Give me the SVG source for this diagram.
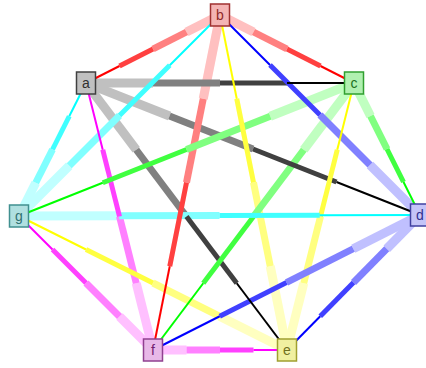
<svg xmlns="http://www.w3.org/2000/svg" width="426" height="368" viewBox="0 0 426 368">
<style>
line{stroke-linecap:butt}
.l1{stroke-width:9}.l2{stroke-width:7}.l3{stroke-width:5}.l4{stroke-width:2}
.K.l1{stroke:#c0c0c0}.K.l2{stroke:#808080}.K.l3{stroke:#404040}.K.l4{stroke:#000}
.R.l1{stroke:#ffc0c0}.R.l2{stroke:#ff8080}.R.l3{stroke:#ff4040}.R.l4{stroke:#f00}
.G.l1{stroke:#c0ffc0}.G.l2{stroke:#80ff80}.G.l3{stroke:#40ff40}.G.l4{stroke:#0f0}
.B.l1{stroke:#c0c0ff}.B.l2{stroke:#8080ff}.B.l3{stroke:#4040ff}.B.l4{stroke:#00f}
.Y.l1{stroke:#ffffc0}.Y.l2{stroke:#ffff80}.Y.l3{stroke:#ffff40}.Y.l4{stroke:#ff0}
.M.l1{stroke:#ffc0ff}.M.l2{stroke:#ff80ff}.M.l3{stroke:#ff40ff}.M.l4{stroke:#f0f}
.C.l1{stroke:#c0ffff}.C.l2{stroke:#80ffff}.C.l3{stroke:#40ffff}.C.l4{stroke:#0ff}
.node rect{stroke-width:1.5}
.node text{font-family:"Liberation Sans","DejaVu Sans",sans-serif;font-size:14px;text-anchor:middle}
</style>
<g id="edges">
<g id="level1">
<line class="R l1" x1="220" y1="15" x2="186.5" y2="32"/>
<line class="K l1" x1="86" y1="83" x2="153" y2="83"/>
<line class="K l1" x1="86" y1="83" x2="169.5" y2="116"/>
<line class="K l1" x1="86" y1="83" x2="136.25" y2="149.75"/>
<line class="M l1" x1="153" y1="350" x2="136.25" y2="283.25"/>
<line class="C l1" x1="19" y1="216" x2="35.75" y2="182.75"/>
<line class="R l1" x1="220" y1="15" x2="253.5" y2="32"/>
<line class="B l1" x1="420" y1="215" x2="370" y2="165"/>
<line class="Y l1" x1="287" y1="350" x2="270.25" y2="266.25"/>
<line class="R l1" x1="220" y1="15" x2="203.25" y2="98.75"/>
<line class="C l1" x1="19" y1="216" x2="69.25" y2="165.75"/>
<line class="G l1" x1="354" y1="83" x2="370.5" y2="116"/>
<line class="Y l1" x1="287" y1="350" x2="303.75" y2="283.25"/>
<line class="G l1" x1="354" y1="83" x2="303.75" y2="149.75"/>
<line class="G l1" x1="354" y1="83" x2="270.25" y2="116.25"/>
<line class="B l1" x1="420" y1="215" x2="386.75" y2="248.75"/>
<line class="B l1" x1="420" y1="215" x2="353.25" y2="248.75"/>
<line class="C l1" x1="19" y1="216" x2="119.25" y2="215.75"/>
<line class="M l1" x1="153" y1="350" x2="186.5" y2="350"/>
<line class="Y l1" x1="287" y1="350" x2="220" y2="316.5"/>
<line class="M l1" x1="153" y1="350" x2="119.5" y2="316.5"/>
</g>
<g id="level2">
<line class="R l2" x1="186.5" y1="32" x2="153" y2="49"/>
<line class="K l2" x1="153" y1="83" x2="220" y2="83"/>
<line class="K l2" x1="169.5" y1="116" x2="253" y2="149"/>
<line class="K l2" x1="136.25" y1="149.75" x2="186.5" y2="216.5"/>
<line class="M l2" x1="136.25" y1="283.25" x2="119.5" y2="216.5"/>
<line class="C l2" x1="35.75" y1="182.75" x2="52.5" y2="149.5"/>
<line class="R l2" x1="253.5" y1="32" x2="287" y2="49"/>
<line class="B l2" x1="370" y1="165" x2="320" y2="115"/>
<line class="Y l2" x1="270.25" y1="266.25" x2="253.5" y2="182.5"/>
<line class="R l2" x1="203.25" y1="98.75" x2="186.5" y2="182.5"/>
<line class="C l2" x1="69.25" y1="165.75" x2="119.5" y2="115.5"/>
<line class="G l2" x1="370.5" y1="116" x2="387" y2="149"/>
<line class="Y l2" x1="303.75" y1="283.25" x2="320.5" y2="216.5"/>
<line class="G l2" x1="303.75" y1="149.75" x2="253.5" y2="216.5"/>
<line class="G l2" x1="270.25" y1="116.25" x2="186.5" y2="149.5"/>
<line class="B l2" x1="386.75" y1="248.75" x2="353.5" y2="282.5"/>
<line class="B l2" x1="353.25" y1="248.75" x2="286.5" y2="282.5"/>
<line class="C l2" x1="119.25" y1="215.75" x2="219.5" y2="215.5"/>
<line class="M l2" x1="186.5" y1="350" x2="220" y2="350"/>
<line class="Y l2" x1="220" y1="316.5" x2="153" y2="283"/>
<line class="M l2" x1="119.5" y1="316.5" x2="86" y2="283"/>
</g>
<g id="level3">
<line class="R l3" x1="153" y1="49" x2="119.5" y2="66"/>
<line class="K l3" x1="220" y1="83" x2="287" y2="83"/>
<line class="K l3" x1="253" y1="149" x2="336.5" y2="182"/>
<line class="K l3" x1="186.5" y1="216.5" x2="236.75" y2="283.25"/>
<line class="M l3" x1="119.5" y1="216.5" x2="102.75" y2="149.75"/>
<line class="C l3" x1="52.5" y1="149.5" x2="69.25" y2="116.25"/>
<line class="R l3" x1="287" y1="49" x2="320.5" y2="66"/>
<line class="B l3" x1="320" y1="115" x2="270" y2="65"/>
<line class="Y l3" x1="253.5" y1="182.5" x2="236.75" y2="98.75"/>
<line class="R l3" x1="186.5" y1="182.5" x2="169.75" y2="266.25"/>
<line class="C l3" x1="119.5" y1="115.5" x2="169.75" y2="65.25"/>
<line class="G l3" x1="387" y1="149" x2="403.5" y2="182"/>
<line class="Y l3" x1="320.5" y1="216.5" x2="337.25" y2="149.75"/>
<line class="G l3" x1="253.5" y1="216.5" x2="203.25" y2="283.25"/>
<line class="G l3" x1="186.5" y1="149.5" x2="102.75" y2="182.75"/>
<line class="B l3" x1="353.5" y1="282.5" x2="320.25" y2="316.25"/>
<line class="B l3" x1="286.5" y1="282.5" x2="219.75" y2="316.25"/>
<line class="C l3" x1="219.5" y1="215.5" x2="319.75" y2="215.25"/>
<line class="M l3" x1="220" y1="350" x2="253.5" y2="350"/>
<line class="Y l3" x1="153" y1="283" x2="86" y2="249.5"/>
<line class="M l3" x1="86" y1="283" x2="52.5" y2="249.5"/>
</g>
<g id="level4">
<line class="R l4" x1="119.5" y1="66" x2="86" y2="83"/>
<line class="K l4" x1="287" y1="83" x2="354" y2="83"/>
<line class="K l4" x1="336.5" y1="182" x2="420" y2="215"/>
<line class="K l4" x1="236.75" y1="283.25" x2="287" y2="350"/>
<line class="M l4" x1="102.75" y1="149.75" x2="86" y2="83"/>
<line class="C l4" x1="69.25" y1="116.25" x2="86" y2="83"/>
<line class="R l4" x1="320.5" y1="66" x2="354" y2="83"/>
<line class="B l4" x1="270" y1="65" x2="220" y2="15"/>
<line class="Y l4" x1="236.75" y1="98.75" x2="220" y2="15"/>
<line class="R l4" x1="169.75" y1="266.25" x2="153" y2="350"/>
<line class="C l4" x1="169.75" y1="65.25" x2="220" y2="15"/>
<line class="G l4" x1="403.5" y1="182" x2="420" y2="215"/>
<line class="Y l4" x1="337.25" y1="149.75" x2="354" y2="83"/>
<line class="G l4" x1="203.25" y1="283.25" x2="153" y2="350"/>
<line class="G l4" x1="102.75" y1="182.75" x2="19" y2="216"/>
<line class="B l4" x1="320.25" y1="316.25" x2="287" y2="350"/>
<line class="B l4" x1="219.75" y1="316.25" x2="153" y2="350"/>
<line class="C l4" x1="319.75" y1="215.25" x2="420" y2="215"/>
<line class="M l4" x1="253.5" y1="350" x2="287" y2="350"/>
<line class="Y l4" x1="86" y1="249.5" x2="19" y2="216"/>
<line class="M l4" x1="52.5" y1="249.5" x2="19" y2="216"/>
</g>
</g>
<g id="node-a" class="node"><rect x="76.5" y="72" width="19" height="22" fill="#c0c0c0" stroke="#404040"/><text x="86" y="88" fill="#303030">a</text></g>
<g id="node-b" class="node"><rect x="210.5" y="4" width="19" height="22" fill="#f4b4b4" stroke="#a03030"/><text x="220" y="20" fill="#902828">b</text></g>
<g id="node-c" class="node"><rect x="344.5" y="72" width="19" height="22" fill="#b0f0b0" stroke="#30a030"/><text x="354" y="88" fill="#207020">c</text></g>
<g id="node-d" class="node"><rect x="410.5" y="204" width="19" height="22" fill="#c4c4f8" stroke="#4040a0"/><text x="420" y="220" fill="#303090">d</text></g>
<g id="node-e" class="node"><rect x="277.5" y="339" width="19" height="22" fill="#f0f0a0" stroke="#a0a030"/><text x="287" y="355" fill="#707020">e</text></g>
<g id="node-f" class="node"><rect x="143.5" y="339" width="19" height="22" fill="#e8b8e8" stroke="#904090"/><text x="153" y="355" fill="#702070">f</text></g>
<g id="node-g" class="node"><rect x="9.5" y="205" width="19" height="22" fill="#b0e0e0" stroke="#409090"/><text x="19" y="221" fill="#307070">g</text></g>
</svg>
